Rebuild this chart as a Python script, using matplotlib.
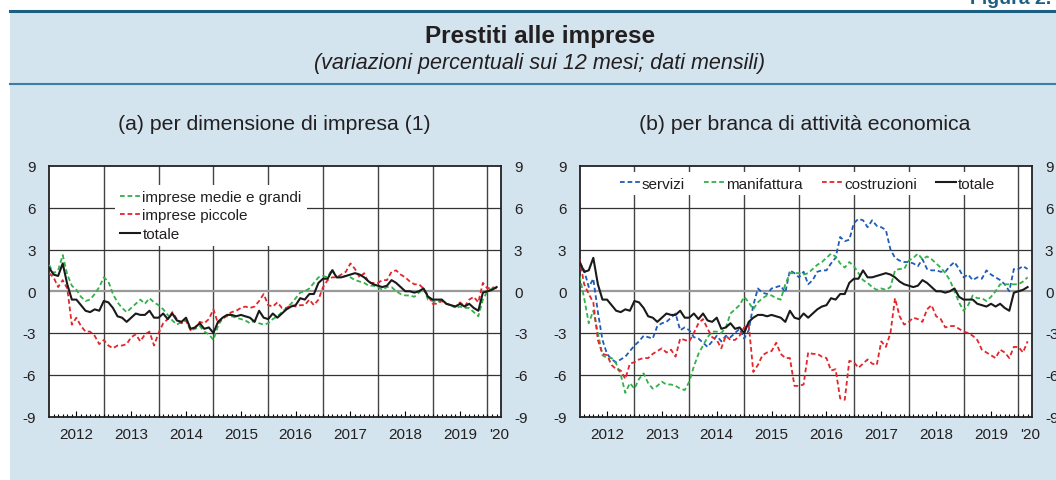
import matplotlib
matplotlib.use("Agg")
import matplotlib.pyplot as plt
from matplotlib.patches import Rectangle
from matplotlib.lines import Line2D

plt.rcParams['font.family'] = ['Liberation Sans', 'DejaVu Sans']
plt.rcParams['axes.unicode_minus'] = False

# ---- data (monthly, Jan 2012 - Mar 2020) ----
years = ['2012', '2013', '2014', '2015', '2016', '2017', '2018', '2019', "'20"]

totale = [1.7, 1.2, 1.1, 2.0, 0.5, -0.6, -0.6, -1.0, -1.4, -1.5, -1.3, -1.4,
          -0.7, -0.8, -1.2, -1.8, -1.9, -2.2, -1.9, -1.6, -1.7, -1.7, -1.4, -1.9,
          -1.9, -1.6, -2.0, -1.6, -2.1, -2.2, -1.9, -2.7, -2.6, -2.3, -2.7, -2.6,
          -3.0, -2.2, -1.9, -1.7, -1.7, -1.8, -1.7, -1.8, -1.9, -2.2, -1.4, -1.9,
          -2.0, -1.6, -1.9, -1.6, -1.3, -1.1, -1.0, -0.5, -0.6, -0.2, -0.2, 0.6,
          0.9, 0.9, 1.5, 1.0, 1.0, 1.1, 1.2, 1.3, 1.2, 1.0, 0.7, 0.5,
          0.4, 0.3, 0.4, 0.8, 0.6, 0.3, 0.0, 0.0, -0.1, 0.0, 0.2, -0.4,
          -0.6, -0.6, -0.6, -0.9, -1.0, -1.1, -0.9, -1.1, -0.9, -1.2, -1.4, -0.1,
          0.0, 0.1, 0.3]

medie_grandi = [1.9, 1.3, 1.5, 2.6, 1.2, 0.4, 0.1, -0.4, -0.7, -0.6, -0.2, 0.3,
                1.0, 0.7, -0.2, -0.8, -1.2, -1.5, -1.2, -0.9, -0.6, -0.9, -0.5, -0.8,
                -1.0, -1.3, -1.7, -2.1, -2.4, -2.2, -2.1, -2.8, -2.7, -2.5, -2.9, -3.1,
                -3.5, -2.5, -1.9, -1.8, -1.8, -1.9, -2.0, -2.1, -2.3, -2.1, -2.3, -2.4,
                -2.3, -2.0, -1.8, -1.5, -1.2, -0.9, -0.5, -0.1, 0.0, 0.2, 0.6, 1.0,
                1.1, 1.0, 1.6, 1.0, 1.0, 1.1, 1.0, 0.8, 0.7, 0.6, 0.4, 0.4,
                0.3, 0.1, 0.3, 0.3, 0.0, -0.2, -0.3, -0.3, -0.4, -0.1, 0.2, -0.6,
                -0.7, -0.8, -0.6, -0.9, -1.0, -1.2, -1.1, -1.2, -1.2, -1.5, -1.8, -0.6,
                0.0, 0.2, 0.3]

piccole = [1.3, 1.0, 0.3, 0.8, 0.2, -2.4, -1.9, -2.5, -2.9, -2.9, -3.2, -3.8,
           -3.5, -3.9, -4.1, -3.9, -3.9, -3.8, -3.3, -3.1, -3.6, -3.1, -2.9, -3.9,
           -3.0, -2.3, -2.0, -1.5, -2.0, -2.3, -2.1, -2.8, -2.6, -2.2, -2.3, -2.0,
           -1.3, -2.3, -2.0, -1.7, -1.5, -1.4, -1.2, -1.1, -1.2, -1.1, -0.7, -0.2,
           -1.0, -1.1, -0.8, -1.2, -1.2, -1.0, -1.1, -1.0, -1.0, -0.6, -1.0, -0.6,
           0.3, 0.8, 1.0, 1.0, 1.2, 1.4, 2.0, 1.6, 1.0, 1.3, 0.6, 0.6,
           0.6, 0.8, 0.8, 1.4, 1.5, 1.2, 1.0, 0.7, 0.5, 0.5, 0.2, -0.3,
           -0.9, -0.9, -0.7, -0.9, -1.0, -1.1, -0.8, -1.1, -0.6, -0.4, -0.8, 0.6,
           0.2, 0.3, 0.2]

servizi = [2.1, 1.5, 0.3, 0.9, -1.5, -3.5, -4.5, -4.9, -5.1, -4.9, -4.7, -4.3,
           -3.9, -3.6, -3.2, -3.3, -3.4, -2.5, -2.3, -2.2, -1.9, -1.6, -2.8, -2.6,
           -2.8, -3.3, -3.4, -3.7, -4.0, -3.6, -3.2, -3.6, -3.2, -3.3, -3.0, -2.7,
           -3.4, -2.8, -1.0, 0.2, -0.1, -0.2, 0.2, 0.3, 0.4, -0.1, 1.5, 1.3,
           1.0, 1.4, 0.5, 0.8, 1.4, 1.5, 1.5, 2.0, 2.4, 3.9, 3.6, 3.7,
           4.9, 5.2, 5.1, 4.6, 5.1, 4.7, 4.6, 4.4, 3.0, 2.4, 2.2, 2.1,
           2.1, 2.0, 1.8, 2.3, 1.6, 1.5, 1.5, 1.4, 1.4, 1.8, 2.1, 1.6,
           1.0, 1.2, 0.8, 1.0, 0.9, 1.5, 1.2, 1.0, 0.8, 0.5, 0.0, 1.6,
           1.6, 1.8, 1.6]

manifattura = [1.1, -0.5, -2.3, -1.4, -3.0, -4.6, -4.8, -4.8, -5.2, -6.0, -7.3, -6.6,
               -7.0, -6.3, -5.9, -6.6, -7.0, -6.8, -6.5, -6.7, -6.7, -6.8, -7.0, -7.1,
               -6.5, -5.4, -4.5, -3.9, -3.3, -2.9, -2.9, -3.0, -2.6, -1.6, -1.3, -1.0,
               -0.4, -0.8, -1.3, -0.8, -0.5, -0.3, -0.3, -0.5, -0.6, 0.5, 1.3, 1.3,
               1.3, 1.2, 1.3, 1.6, 1.9, 2.1, 2.4, 2.7, 2.5, 2.0, 1.7, 2.1,
               1.8, 1.3, 0.8, 0.6, 0.3, 0.1, 0.2, 0.1, 0.3, 1.5, 1.6, 1.6,
               2.2, 2.4, 2.7, 2.3, 2.5, 2.3, 2.0, 1.7, 1.3, 0.8, 0.0, -0.8,
               -1.4, -1.0, -0.3, -0.5, -0.5, -0.7, -0.4, 0.0, 0.5, 0.5, 0.5, 0.5,
               0.5, 0.7, 1.0]

costruzioni = [2.3, 0.5, -0.2, -0.8, -3.5, -4.5, -4.6, -5.3, -5.6, -5.7, -6.3, -5.2,
               -5.1, -4.9, -4.8, -4.8, -4.5, -4.3, -4.1, -4.4, -4.2, -4.7, -3.4, -3.5,
               -3.6, -3.0, -2.3, -2.0, -2.7, -3.3, -3.5, -4.1, -3.2, -3.5, -3.5, -3.2,
               -2.6, -2.4, -5.8, -5.3, -4.6, -4.4, -4.3, -3.7, -4.5, -4.8, -4.8, -6.8,
               -6.8, -6.7, -4.4, -4.5, -4.5, -4.7, -4.8, -5.7, -5.6, -7.7, -7.8, -5.0,
               -5.1, -5.5, -5.2, -4.9, -5.2, -5.3, -3.6, -4.0, -3.0, -0.5, -1.8, -2.4,
               -2.2, -1.9, -2.0, -2.2, -1.3, -1.0, -1.8, -2.0, -2.6, -2.5, -2.5, -2.7,
               -2.9, -3.0, -3.2, -3.5, -4.2, -4.4, -4.6, -4.8, -4.2, -4.4, -4.8, -4.0,
               -4.0, -4.4, -3.6]

totale_b = [2.1, 1.4, 1.5, 2.4] + totale[4:]

# ---- styling ----
W, H = 1056, 481
BG = '#d3e4ee'
TEAL = '#1c5f80'
TXT = '#231f20'
GREEN = '#33b14a'
RED = '#e3262b'
BLUE = '#1f5cb8'
DASH = (2.6, 1.6)

fig = plt.figure(figsize=(W / 100, H / 100), dpi=100)
fig.patches.append(Rectangle((10 / W, 0), 1, (H - 11) / H, transform=fig.transFigure,
                             facecolor=BG, edgecolor='none', zorder=-10))
fig.add_artist(Line2D([10 / W, 1], [1 - 12 / H] * 2, color=TEAL, lw=2.2))
fig.add_artist(Line2D([10 / W, 1], [1 - 84.5 / H] * 2, color='#3a7fa3', lw=1.5))

fig.text(970 / W, 1 - 4 / H, 'Figura 2.', color=TEAL, fontsize=14, fontweight='bold',
         ha='left', va='baseline')
fig.text(540 / W, 1 - 36 / H, 'Prestiti alle imprese', fontsize=17.5, fontweight='bold',
         ha='center', va='center', color=TXT)
fig.text(540 / W, 1 - 63 / H, '(variazioni percentuali sui 12 mesi; dati mensili)',
         fontsize=15.5, style='italic', ha='center', va='center', color=TXT)
fig.text(274 / W, 1 - 125 / H, '(a) per dimensione di impresa (1)', fontsize=15.3,
         ha='center', va='center', color=TXT)
fig.text(805 / W, 1 - 125 / H, '(b) per branca di attività economica', fontsize=15.3,
         ha='center', va='center', color=TXT)


def px(x0, y0, x1, y1):
    return [x0 / W, 1 - y1 / H, (x1 - x0) / W, (y1 - y0) / H]


def style(ax):
    n = len(totale)
    ax.set_xlim(0, 98.9)
    ax.set_ylim(-9, 9)
    ax.set_facecolor('white')
    ax.set_yticks([-9, -6, -3, 0, 3, 6, 9])
    ax.tick_params(axis='y', length=0, labelsize=11, labelcolor=TXT, pad=9.5,
                   left=True, right=True, labelleft=True, labelright=True)
    pos = [12 * k + 6 for k in range(len(years) - 1)] + [98.6]
    ax.set_xticks(pos)
    ax.set_xticklabels(years)
    ax.set_xticks(range(1, n), minor=True)
    ax.tick_params(axis='x', which='major', direction='in', length=4.5, width=0.8,
                   labelsize=11, labelcolor=TXT, pad=7.5)
    ax.tick_params(axis='x', which='minor', direction='in', length=2.2, width=0.8)
    ax.xaxis.get_major_ticks()[-1].tick1line.set_visible(False)
    for k in range(1, len(years)):
        ax.axvline(12 * k, color='#444444', lw=1.0, zorder=1)
    for v in [6, 3, -3, -6]:
        ax.axhline(v, color='#333333', lw=0.9, zorder=1)
    ax.axhline(0, color='#9a9a9a', lw=1.6, zorder=1)
    for s in ax.spines.values():
        s.set_linewidth(1.3)
        s.set_color('#222222')


axL = fig.add_axes(px(49, 167, 500.7, 417.5))
axR = fig.add_axes(px(579.6, 167, 1031.7, 417.5))
style(axL)
style(axR)

x = range(len(totale))
axL.plot(x, medie_grandi, color=GREEN, lw=1.3, dashes=DASH, label='imprese medie e grandi', zorder=3)
axL.plot(x, piccole, color=RED, lw=1.3, dashes=DASH, label='imprese piccole', zorder=3)
axL.plot(x, totale, color='#1a1a1a', lw=1.5, label='totale', zorder=4)
legL = axL.legend(loc='upper left', bbox_to_anchor=(0.146, 0.926), borderaxespad=0,
                  fontsize=11, frameon=True, facecolor='white', edgecolor='none',
                  framealpha=1, fancybox=False, handlelength=1.3, handletextpad=0.15,
                  labelspacing=0.3, borderpad=0.35)
legL.set_zorder(10)
for t in legL.get_texts():
    t.set_color(TXT)

axR.plot(x, servizi, color=BLUE, lw=1.3, dashes=DASH, label='servizi', zorder=3)
axR.plot(x, manifattura, color=GREEN, lw=1.3, dashes=DASH, label='manifattura', zorder=3)
axR.plot(x, costruzioni, color=RED, lw=1.3, dashes=DASH, label='costruzioni', zorder=3)
axR.plot(x, totale_b, color='#1a1a1a', lw=1.5, label='totale', zorder=4)
legR = axR.legend(loc='upper left', bbox_to_anchor=(0.079, 0.976), borderaxespad=0, ncol=4,
                  fontsize=11, frameon=True, facecolor='white', edgecolor='none',
                  framealpha=1, fancybox=False, handlelength=1.3, handletextpad=0.15,
                  columnspacing=1.25, borderpad=0.3)
legR.set_zorder(10)
for t in legR.get_texts():
    t.set_color(TXT)

fig.savefig('out.png', dpi=100)
